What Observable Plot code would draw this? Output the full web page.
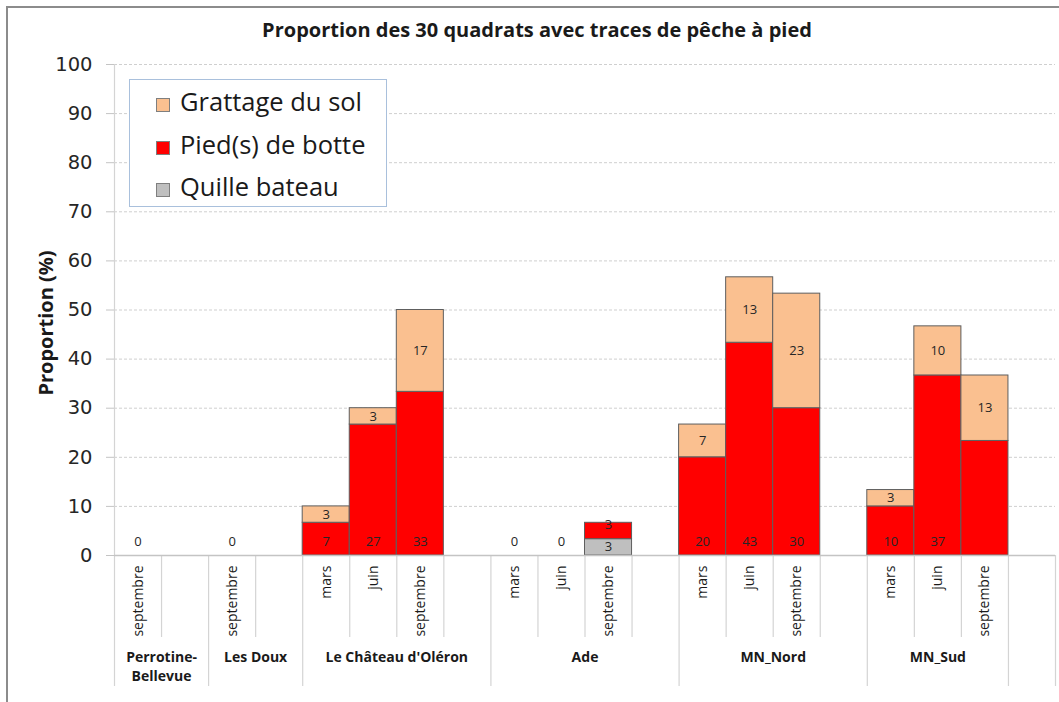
<!DOCTYPE html>
<html>
<head>
<meta charset="utf-8">
<script src="https://cdn.jsdelivr.net/npm/d3@7"></script>
<script src="https://cdn.jsdelivr.net/npm/@observablehq/plot@0.6"></script>
<style>
  body { margin: 0; background: #fff; font-family: "Open Sans", sans-serif; }
  #wrap { position: relative; width: 1059px; height: 702px; overflow: hidden; background: #fff; }
  #frame { position: absolute; left: 6px; top: 6px; width: 1200px; height: 900px;
           border-left: 2px solid #8c8c8c; border-top: 2px solid #8c8c8c; box-sizing: border-box; }
  #chart { position: absolute; left: 0; top: 0; }
  #title { position: absolute; left: 0; width: 1074px; top: 17px; line-height: 26px; text-align: center;
           font-weight: 700; font-size: 20px; color: #1a1a1a; }
  #legend { position: absolute; left: 129px; top: 79px; width: 258px; height: 128px; box-sizing: border-box;
            border: 1px solid #a9c0dc; background: #fff; }
  .item { height: 42.5px; line-height: 42.5px; font-size: 25.5px; color: #1a1a1a; white-space: nowrap; }
  .sw { display: inline-block; width: 14px; height: 14px; margin-left: 26px; margin-right: 10px;
        border: 1px solid #7f7f7f; box-sizing: border-box; vertical-align: -1px; }
</style>
</head>
<body>
<div id="wrap">
  <div id="frame"></div>
  <div id="chart"></div>
  <div id="title"></div>
  <div id="legend"></div>
</div>
<script>
// ---- Data ----
const title = "Proportion des 30 quadrats avec traces de pêche à pied";
const yLabel = "Proportion (%)";
const yTicks = [0, 10, 20, 30, 40, 50, 60, 70, 80, 90, 100];

// one entry per category slot (empty strings are the blank slots of the original axis)
const slotSite = [
  "Perrotine-\nBellevue", "Perrotine-\nBellevue",
  "Les Doux", "Les Doux",
  "Le Château d'Oléron", "Le Château d'Oléron", "Le Château d'Oléron", "Le Château d'Oléron",
  "Ade", "Ade", "Ade", "Ade",
  "MN_Nord", "MN_Nord", "MN_Nord", "MN_Nord",
  "MN_Sud", "MN_Sud", "MN_Sud",
  ""
];
const months = [
  "septembre", "",
  "septembre", "",
  "mars", "juin", "septembre", "",
  "mars", "juin", "septembre", "",
  "mars", "juin", "septembre", "",
  "mars", "juin", "septembre",
  ""
];

const seriesNames = ["Quille bateau", "Pied(s) de botte", "Grattage du sol"]; // stacking order (bottom to top)
const seriesColors = ["#bfbfbf", "#ff0000", "#fac090"];

const quille   = [0, null, 0, null, 0, 0, 0, null, 0, 0, 3.33, null, 0, 0, 0, null, 0, 0, 0, null];
const pied     = [0, null, 0, null, 6.67, 26.67, 33.33, null, 0, 0, 3.33, null, 20, 43.33, 30, null, 10, 36.67, 23.33, null];
const grattage = [0, null, 0, null, 3.33, 3.33, 16.67, null, 0, 0, 0, null, 6.67, 13.33, 23.33, null, 3.33, 10, 13.33, null];

// labels as printed on the reference
const quilleLabels   = ["", "", "", "", "", "", "", "", "", "", "3", "", "", "", "", "", "", "", "", ""];
const piedLabels     = ["0", "", "0", "", "7", "27", "33", "", "0", "0", "3", "", "20", "43", "30", "", "10", "37", "", ""];
const grattageLabels = ["", "", "", "", "3", "3", "17", "", "", "", "", "", "7", "13", "23", "", "3", "10", "13", ""];

// ---- Build tables ----
const seriesValues = [quille, pied, grattage];
const seriesLabels = [quilleLabels, piedLabels, grattageLabels];
const segments = [];
const labels = [];
months.forEach((m, i) => {
  let cum = 0;
  seriesValues.forEach((vals, s) => {
    const v = vals[i];
    if (v == null) return;
    const lab = seriesLabels[s][i];
    if (v > 0) segments.push({x1: i, x2: i + 1, y1: cum, y2: cum + v, series: seriesNames[s]});
    if (lab !== "") {
      // Pied(s) de botte labels sit at the base of their segment, the others in the middle
      if (s === 1) labels.push({x: i + 0.5, y: cum, text: lab, base: true});
      else labels.push({x: i + 0.5, y: cum + v / 2, text: lab, base: false});
    }
    cum += v;
  });
});

const slots = months.map((m, i) => ({i, month: m, site: slotSite[i]}));
const innerBounds = [];
const groupBounds = [0];
for (let i = 1; i < months.length; i++) {
  if (slotSite[i] === slotSite[i - 1]) innerBounds.push(i); else groupBounds.push(i);
}
groupBounds.push(months.length);
const groups = [];
for (let g = 0; g < groupBounds.length - 1; g++) {
  const a = groupBounds[g], b = groupBounds[g + 1];
  groups.push({name: slotSite[a], center: (a + b) / 2});
}

// ---- Chart ----
const font = "Open Sans, sans-serif";
const chart = Plot.plot({
  width: 1059,
  height: 702,
  marginLeft: 114,
  marginRight: 4,
  marginTop: 64,
  marginBottom: 147,
  style: {fontFamily: font, background: "transparent", overflow: "visible"},
  x: {type: "linear", domain: [0, months.length], axis: null},
  y: {domain: [0, 100], axis: null},
  color: {domain: seriesNames, range: seriesColors},
  marks: [
    Plot.ruleY(yTicks.filter(d => d > 0), {stroke: "#cfcfcf", strokeDasharray: "3,2"}),
    Plot.rect(segments, {x1: "x1", x2: "x2", y1: "y1", y2: "y2", fill: "series", stroke: "#5e5e5e", strokeWidth: 1}),
    Plot.ruleX(innerBounds, {x: d => d, y1: 0, y2: 0, insetBottom: -82, stroke: "#d4d4d4", strokeWidth: 1.2}),
    Plot.ruleX(groupBounds, {x: d => d, y1: 0, y2: 0, insetBottom: -131, stroke: "#d4d4d4", strokeWidth: 1.2}),
    Plot.ruleX([0], {y1: 0, y2: 100, stroke: "#d4d4d4", strokeWidth: 1.2}),
    Plot.ruleY([0], {stroke: "#c4c4c4", strokeWidth: 1.5}),
    Plot.axisY({ticks: yTicks, tickSize: 8, tickPadding: 14, fontSize: 19.5, label: null,
                fontFamily: "DejaVu Sans, sans-serif", stroke: "#c4c4c4", fill: "#262626"}),
    Plot.text([yLabel], {frameAnchor: "left", textAnchor: "middle", text: d => d, rotate: -90, dx: -68, dy: 13,
                         fontWeight: "bold", fontSize: 20, fill: "#1a1a1a"}),
    Plot.text(labels.filter(d => d.base), {x: "x", y: "y", text: "text", dy: -14, fontSize: 13, fill: "#262626"}),
    Plot.text(labels.filter(d => !d.base), {x: "x", y: "y", text: "text", fontSize: 13, fill: "#262626"}),
    Plot.text(slots.filter(d => d.month !== ""), {x: d => d.i + 0.5, y: 0, text: "month", rotate: -90,
              textAnchor: "end", lineAnchor: "middle", dy: 10, fontSize: 14, fill: "#1a1a1a"}),
    Plot.text(groups.filter(d => d.name !== ""), {x: "center", y: 0, text: "name", lineAnchor: "top", dy: 93,
              fontWeight: "bold", fontSize: 14, lineHeight: 1.36, fill: "#1a1a1a"})
  ]
});
document.getElementById("chart").appendChild(chart);
document.getElementById("title").textContent = title;

// legend (top-to-bottom order as in the reference)
const legend = document.getElementById("legend");
[2, 1, 0].forEach(s => {
  const item = document.createElement("div");
  item.className = "item";
  const sw = document.createElement("span");
  sw.className = "sw";
  sw.style.background = seriesColors[s];
  item.appendChild(sw);
  item.appendChild(document.createTextNode(seriesNames[s]));
  legend.appendChild(item);
});
</script>
</body>
</html>
